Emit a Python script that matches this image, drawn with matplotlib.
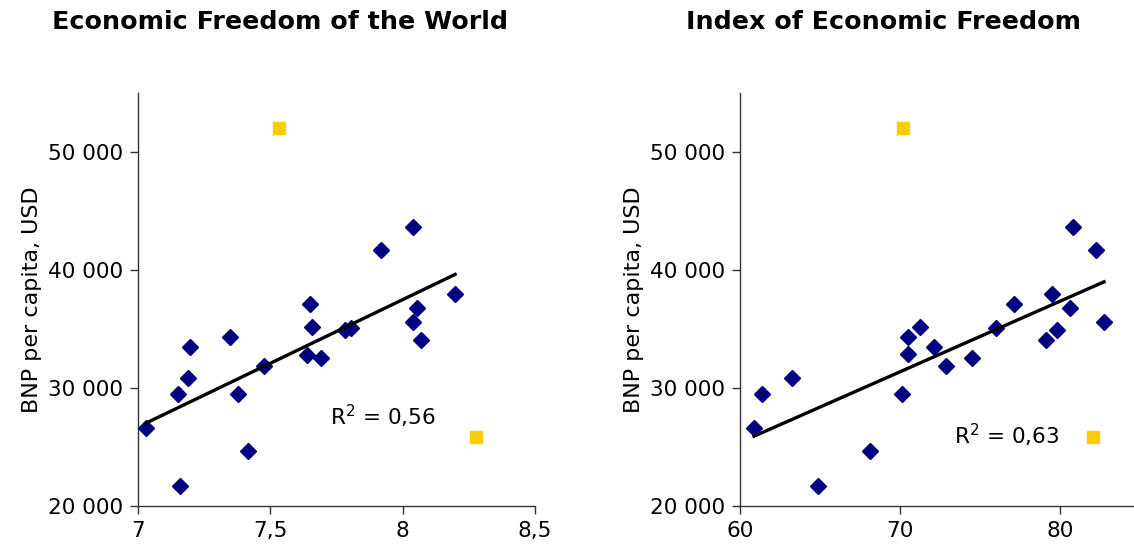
import numpy as np
import matplotlib
matplotlib.use("Agg")
import matplotlib.pyplot as plt
from matplotlib.ticker import FuncFormatter

# GDP per capita (USD), same countries in both panels
gdp = [26580, 29490, 21690, 30820, 33500, 34350, 29460, 24690, 31860, 32800,
       37090, 35200, 32520, 34920, 35060, 41670, 43670, 35570, 36750, 34040, 37940]
efw = [7.030, 7.152, 7.159, 7.190, 7.196, 7.348, 7.379, 7.417, 7.477, 7.637,
       7.651, 7.659, 7.690, 7.782, 7.803, 7.917, 8.038, 8.038, 8.053, 8.068, 8.198]

gdp_r = [26640, 29460, 30820, 21690, 24690, 29460, 34350, 32850, 35200, 33500,
         31840, 32520, 35060, 37090, 34040, 37940, 34890, 36750, 43670, 41670, 35570]
ief = [60.875, 61.39, 63.27, 64.9, 68.1, 70.15, 70.5, 70.5, 71.27, 72.1,
       72.9, 74.5, 76.0, 77.1, 79.1, 79.5, 79.8, 80.6, 80.8, 82.25, 82.75]

# outliers (yellow squares)
out_gdp = [52060, 25820]
out_efw = [7.534, 8.277]
out_ief = [70.2, 82.06]

titles = ["Economic Freedom of the World", "Index of Economic Freedom"]
r2_labels = ["R$^2$ = 0,56", "R$^2$ = 0,63"]

fig = plt.figure(figsize=(11.34, 5.5), dpi=100)
plt.rcParams['font.family'] = ['DejaVu Sans']

ax1 = fig.add_axes([138/1134, 44/550, 397/1134, 413/550])
ax2 = fig.add_axes([740/1134, 44/550, 400/1134, 413/550])

thousands = FuncFormatter(lambda v, p: f"{int(v):,}".replace(",", " "))
comma = FuncFormatter(lambda v, p: (f"{v:g}").replace(".", ","))

def style(ax, xlim, xticks):
    ax.set_xlim(*xlim)
    ax.set_ylim(20000, 55000)
    ax.set_xticks(xticks)
    ax.set_yticks([20000, 30000, 40000, 50000])
    ax.yaxis.set_major_formatter(thousands)
    ax.xaxis.set_major_formatter(comma)
    for s in ["top", "right"]:
        ax.spines[s].set_visible(False)
    for s in ["left", "bottom"]:
        ax.spines[s].set_linewidth(1.0)
        ax.spines[s].set_color("#333333")
    ax.tick_params(axis="both", direction="out", length=6, width=1.0,
                   labelsize=15.5, colors="#333333", labelcolor="black", pad=5)
    ax.set_ylabel("BNP per capita, USD", fontsize=16, labelpad=4)

def panel(ax, x, y, ox, r2, r2pos, xlim, xticks):
    style(ax, xlim, xticks)
    ax.plot(x, y, linestyle="none", marker="D", markersize=8.5,
            color="#000080", clip_on=False, zorder=3)
    ax.plot(ox, out_gdp, linestyle="none", marker="s", markersize=9,
            color="#FFCC00", clip_on=False, zorder=3)
    xa = np.array(x); ya = np.array(y)
    b, a = np.polyfit(xa, ya, 1)
    xs = np.array([xa.min(), xa.max()])
    ax.plot(xs, a + b * xs, color="black", linewidth=2.4, zorder=4)
    ax.text(r2pos[0], r2pos[1], r2, fontsize=15.5, va="center", ha="left")

panel(ax1, efw, gdp, out_efw, r2_labels[0], (7.725, 27600), (7, 8.5), [7, 7.5, 8, 8.5])
panel(ax2, ief, gdp_r, out_ief, r2_labels[1], (73.4, 26000), (60, 85), [60, 70, 80])

fig.text(280/1134, 1 - 22/550, titles[0], fontsize=18.3, fontweight="bold",
         ha="center", va="center")
fig.text(883/1134, 1 - 22/550, titles[1], fontsize=18.3, fontweight="bold",
         ha="center", va="center")

fig.savefig("out.png", dpi=100)
